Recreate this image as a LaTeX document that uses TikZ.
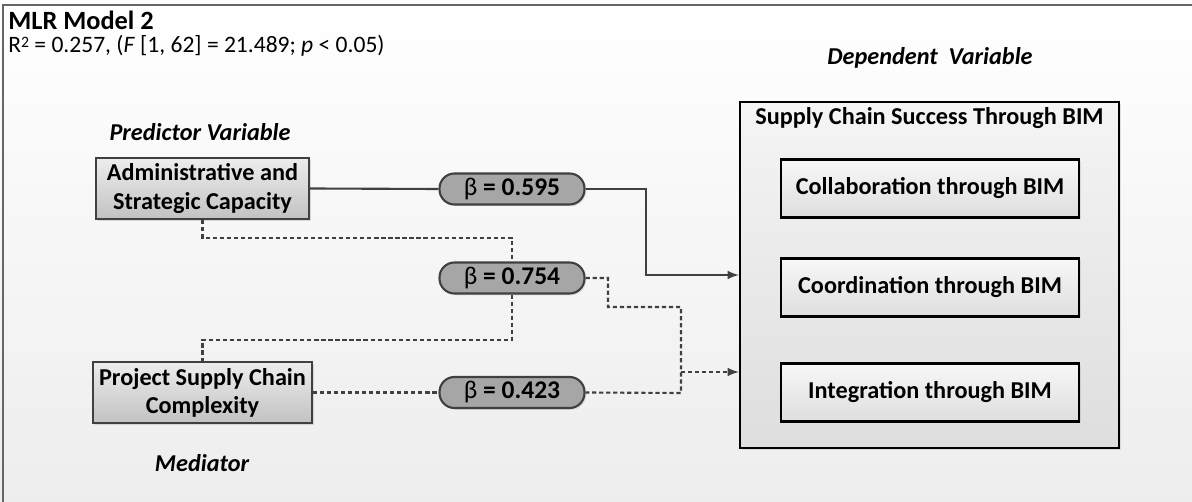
\documentclass[tikz,border=0pt]{standalone}
\usepackage{fontspec}
\setmainfont{Carlito}
\usetikzlibrary{calc,arrows,shadows}

\begin{document}
\begin{tikzpicture}[x=0.02cm,y=-0.02cm,font=\fontsize{13.8}{16}\selectfont,
  ln/.style={draw=black!75,line width=1.2pt},
  dsh/.style={ln,dash pattern=on 2.4pt off 1.6pt},
  varbox/.style={draw=black!75,line width=1.2pt,top color=black!7,bottom color=black!24,
    minimum width=4.26cm,minimum height=1.18cm,align=center,font=\fontsize{13.8}{16}\selectfont\bfseries,
    drop shadow={shadow xshift=1.2pt,shadow yshift=-1.2pt,opacity=0.25}},
  betabox/.style={draw=black!75,line width=1.2pt,fill=black!35,rounded corners=8.5pt,
    minimum width=2.9cm,minimum height=0.62cm,inner sep=0pt,font=\fontsize{14.5}{16}\selectfont,
    drop shadow={shadow xshift=1pt,shadow yshift=-1pt,opacity=0.2}},
  subbox/.style={draw=black,line width=1.3pt,top color=black!3,bottom color=black!13,
    minimum width=5.96cm,minimum height=1.16cm,font=\fontsize{13.8}{16}\selectfont\bfseries,
    drop shadow={shadow xshift=1pt,shadow yshift=-1pt,opacity=0.2}},
  heading/.style={font=\fontsize{13.8}{16}\selectfont\bfseries\itshape,inner sep=0pt}]
\useasboundingbox(0,0)rectangle(1192,502);
\shade[top color=white,bottom color=black!7](0,0)rectangle(1192,502);
\draw[black!60,line width=0.8pt](3,502)--(3,5)--(1192,5);
\node[anchor=base west,inner sep=0pt,text height=7pt,text depth=0pt,font=\fontsize{15}{17}\selectfont\bfseries](ttl)at(8,30){MLR Model 2};
\node[anchor=base west,inner sep=0pt,text height=8pt,text depth=2pt,font=\fontsize{13.4}{16}\selectfont](stat)at(8,53){R\raisebox{3.4pt}{\fontsize{9}{9}\selectfont 2} = 0.257, (\textit{F} [1, 62] = 21.489; \textit{p} < 0.05)};
\node[heading](hpre)at(200,132){Predictor Variable};
\node[heading](hdep)at(930,58){Dependent\ \ Variable};
\node[heading](hmed)at(202,463){Mediator};
\node[draw=black,line width=1.3pt,top color=black!4,bottom color=black!13,minimum width=7.58cm,minimum height=6.92cm,
  drop shadow={shadow xshift=1pt,shadow yshift=-1pt,opacity=0.2}](scs)at(929.5,275){};
\node[inner sep=0pt,font=\fontsize{13.8}{16}\selectfont\bfseries](scst)at(929.5,118){Supply Chain Success Through BIM};
\node[subbox](col)at(930,188.5){Collaboration through BIM};
\node[subbox](coo)at(930,287.5){Coordination through BIM};
\node[subbox](int)at(930,392.5){Integration through BIM};
\node[varbox](adm)at(202.5,188.5){Administrative and\\Strategic Capacity};
\node[varbox](med)at(202.5,392.5){Project Supply Chain\\Complexity};
\node[betabox](b1)at(512,189){β \textbf{= 0.595}};
\node[betabox](b2)at(512,278){β \textbf{= 0.754}};
\node[betabox](b3)at(512,392.5){β \textbf{= 0.423}};
\coordinate(j1)at(646,275);
\coordinate(k1)at(512,238);
\coordinate(k2)at(512,340);
\coordinate(k3)at(608,307);
\coordinate(k4)at(681,393);
\coordinate(k5)at(681,372);
\draw[ln](adm.east)--(b1.west);
\draw[ln,-latex](b1.east)-|(j1)--(j1-|scs.west);
\draw[dsh](adm.south)|-(k1)--(b2.north);
\draw[dsh](b2.south)--(k2)-|(med.north);
\draw[dsh](med.east)--(b3.west);
\draw[dsh](b2.east)-|(k3)-|(k4)--(b3.east);
\draw[dsh,-latex](k5)--(k5-|scs.west);
\end{tikzpicture}
\end{document}
